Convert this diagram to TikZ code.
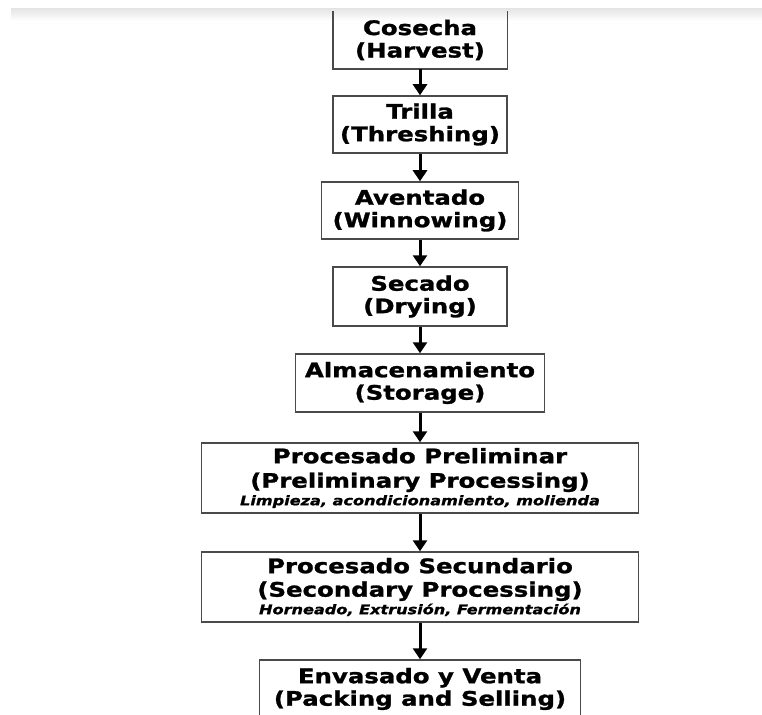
\documentclass[tikz,border=0pt]{standalone}
\usepackage{fontspec}
\newfontfamily\boxfont{DejaVu Sans}[FakeStretch=1.22, FakeBold=1.3]
\usetikzlibrary{arrows.meta}
\definecolor{boxgray}{HTML}{4A4A4A}
\newcommand\subline[1]{{\fontsize{13.2}{15}\selectfont\itshape #1}}
\tikzset{
  stage/.style={draw=boxgray, line width=1.5pt, fill=white, align=center,
    inner sep=0pt, font=\boxfont\bfseries\fontsize{20}{22.5}\selectfont},
  flow/.style={line width=3pt, -{Triangle[width=14pt,length=11pt]}}
}
\begin{document}
\begin{tikzpicture}[x=1pt,y=1pt]
\useasboundingbox (0,0) rectangle (762,-714);
\clip (0,0) rectangle (762,-714);
\shade[top color=black!10, bottom color=white] (11,-9) rectangle (762,-21);
\node[stage, draw=none, fill=none, minimum width=173pt, minimum height=57pt] (n1) at (420,-40) {Cosecha\\(Harvest)};
\draw[boxgray, line width=1.5pt] (n1.north west) |- (n1.south east) -- (n1.north east);
\node[stage, minimum width=174pt, minimum height=57pt] (n2) at (420,-124.5) {Trilla\\(Threshing)};
\node[stage, minimum width=197pt, minimum height=57pt] (n3) at (420,-210.5) {Aventado\\(Winnowing)};
\node[stage, minimum width=174pt, minimum height=59pt] (n4) at (420,-296.5) {Secado\\(Drying)};
\node[stage, minimum width=249pt, minimum height=58pt] (n5) at (420,-383) {Almacenamiento\\(Storage)};
\node[stage, minimum width=437pt, minimum height=70pt] (n6) at (420,-478) {Procesado Preliminar\\[2pt](Preliminary Processing)\\[-5pt]\subline{Limpieza, acondicionamiento, molienda}};
\node[stage, minimum width=437pt, minimum height=70pt] (n7) at (420,-587) {Procesado Secundario\\[1pt](Secondary Processing)\\[-5pt]\subline{Horneado, Extrusión, Fermentación}};
\node[stage, minimum width=321pt, minimum height=58pt] (n8) at (420,-689) {Envasado y Venta\\(Packing and Selling)};
\draw[flow] (n1.south) -- (n2.north);
\draw[flow] (n2.south) -- (n3.north);
\draw[flow] (n3.south) -- (n4.north);
\draw[flow] (n4.south) -- (n5.north);
\draw[flow] (n5.south) -- (n6.north);
\draw[flow] (n6.south) -- (n7.north);
\draw[flow] (n7.south) -- (n8.north);
\end{tikzpicture}
\end{document}
